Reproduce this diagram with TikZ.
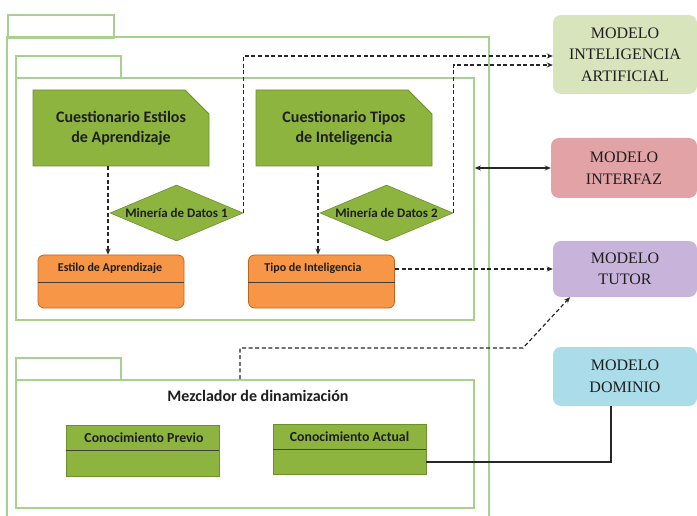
\documentclass[tikz,border=0pt]{standalone}
\usepackage{fontspec}
\setmainfont{Liberation Serif}
\newfontfamily\carl{Carlito}
\usetikzlibrary{shapes.geometric,shapes.misc,arrows.meta,calc}
\definecolor{pkgc}{HTML}{A9D18E}
\definecolor{qfill}{HTML}{8DB43E}
\definecolor{qdraw}{HTML}{6E8F2E}
\definecolor{ofill}{HTML}{F79646}
\definecolor{odraw}{HTML}{C0651F}
\definecolor{iafill}{HTML}{D7E4BC}
\definecolor{infill}{HTML}{E2A3A6}
\definecolor{tufill}{HTML}{C8B4DA}
\definecolor{dofill}{HTML}{ABDCEA}
\definecolor{txt}{HTML}{1E1E1E}
\begin{document}
\begin{tikzpicture}[x=1pt,y=-1pt,
  pkgline/.style={draw=pkgc, line width=1.8pt},
  pkgbox/.style={pkgline, rectangle, anchor=north west, inner sep=0pt},
  quest/.style={chamfered rectangle, chamfered rectangle corners=north east,
    chamfered rectangle xsep=12pt, chamfered rectangle ysep=12pt,
    fill=qfill, draw=qdraw, line width=0.8pt, minimum width=176pt, minimum height=76pt,
    inner sep=0pt, align=center, text=txt, font=\carl\bfseries\fontsize{16}{19.5}\selectfont},
  mine/.style={diamond, fill=qfill, draw=qdraw, line width=0.6pt, minimum width=133pt,
    minimum height=56pt, inner sep=0pt, text=txt, font=\carl\bfseries\fontsize{13}{15}\selectfont},
  obox/.style={rectangle, rounded corners=6pt, fill=ofill, draw=odraw, line width=0.8pt,
    minimum width=146pt, minimum height=53pt, inner sep=0pt},
  otext/.style={text=txt, inner sep=0pt, font=\carl\bfseries\fontsize{12}{14}\selectfont},
  gbox/.style={rectangle, fill=qfill, draw=qdraw, line width=0.8pt,
    minimum width=153pt, minimum height=51pt, inner sep=0pt},
  gtext/.style={text=txt, inner sep=0pt, font=\carl\bfseries\fontsize{13.8}{16}\selectfont},
  model/.style={rectangle, rounded corners=8pt, inner sep=0pt, align=center,
    minimum width=144pt, text=txt, font=\fontsize{16}{21.5}\selectfont},
  dashline/.style={draw=black!85, line width=1.2pt, dash pattern=on 4pt off 2.6pt},
  dasharrow/.style={dashline, -{Stealth[length=6pt,width=5pt]}},
  divider/.style={draw=black!75, line width=1pt}
]
\useasboundingbox (0,0) rectangle (697,516);

% outer package
\draw[pkgline] (7,520) |- (489,37) -- (489,520);
\node[pkgbox, minimum width=106pt, minimum height=23pt] (tab0) at (7,14) {};

% package 1
\node[pkgbox, minimum width=105pt, minimum height=22pt] (tab1) at (15,55) {};
\node[pkgbox, minimum width=458pt, minimum height=242pt] (p1) at (15,77) {};

% package 2
\node[pkgbox, minimum width=105pt, minimum height=22pt] (tab2) at (15,357) {};
\node[pkgbox, minimum width=458pt, minimum height=128pt] (p2) at (15,379) {};

% questionnaires
\node[quest] (qe) at (121,128) {Cuestionario Estilos\\de Aprendizaje};
\node[quest] (qt) at (344,128) {Cuestionario Tipos\\de Inteligencia};

% data mining diamonds
\node[mine] (m1) at (176.5,213) {\makebox[0pt]{Minería de Datos 1}};
\node[mine] (m2) at (386.5,213) {\makebox[0pt]{Minería de Datos 2}};

% orange classes
\node[obox] (ea) at (111,281.5) {};
\draw[divider] (ea.west |- 0,282) -- (ea.east |- 0,282);
\node[otext] (eat) at (110,268.5) {Estilo de Aprendizaje};
\node[obox] (ti) at (321.5,281.5) {};
\draw[divider] (ti.west |- 0,282) -- (ti.east |- 0,282);
\node[otext] (tit) at (313,268.5) {Tipo de Inteligencia};

% mezclador
\node[text=txt, inner sep=0pt, font=\carl\bfseries\fontsize{16}{18}\selectfont] (mez) at (258,396) {Mezclador de dinamización};
\node[gbox] (cp) at (142.5,451) {};
\draw[divider] (cp.west |- 0,450) -- (cp.east |- 0,450);
\node[gtext] (cpt) at (144,437.5) {Conocimiento Previo};
\node[gbox, minimum height=50pt] (ca) at (349.5,449) {};
\draw[divider] (ca.west |- 0,449) -- (ca.east |- 0,449);
\node[gtext] (cat) at (349.5,436.5) {Conocimiento Actual};

% models
\node[model, fill=iafill, minimum height=79pt] (mia) at (625,54.5) {MODELO\\INTELIGENCIA\\ARTIFICIAL};
\node[model, fill=infill, minimum width=146pt, minimum height=60pt] (mint) at (624,168) {MODELO\\INTERFAZ};
\node[model, fill=tufill, minimum height=56pt] (mtut) at (625,269) {MODELO\\TUTOR};
\node[model, fill=dofill, minimum height=59pt] (mdom) at (625,376.5) {MODELO\\DOMINIO};

% connectors
\draw[dasharrow] (qe.south -| 108,0) -- (ea.north -| 108,0);
\draw[dasharrow] (qt.south -| 318,0) -- (ti.north -| 318,0);
\draw[dasharrow] (m1.east) |- (mia.west |- 0,56);
\draw[dasharrow] (m2.east) |- (mia.west |- 0,65);
\draw[line width=1.2pt, black!85, {Stealth[length=6pt,width=5pt]}-{Stealth[length=6pt,width=5pt]}] (p1.east |- mint.west) -- (mint.west);
\draw[dasharrow] (ti.east |- mtut.west) -- (mtut.west);
\draw[dasharrow] (p2.north west -| 240,0) |- (523,348) -- (mtut.south -| 570,0);
\draw[line width=1.1pt, black!85] (ca.east |- 0,462) -| (mdom.south -| 611,0);
\end{tikzpicture}
\end{document}
